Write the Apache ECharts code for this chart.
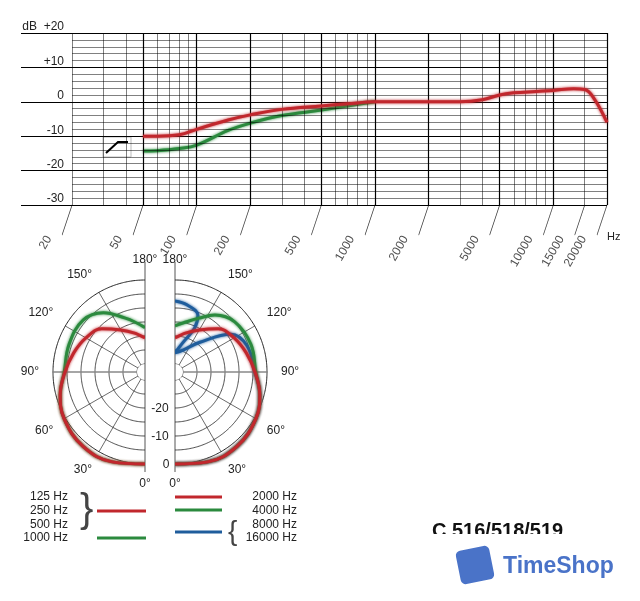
<!DOCTYPE html>
<html>
<head>
<meta charset="utf-8">
<script src="https://cdn.jsdelivr.net/npm/echarts@6/dist/echarts.min.js"></script>
<style>
  html, body { margin: 0; padding: 0; background: #fff; }
  #chart { width: 640px; height: 601px; }
</style>
</head>
<body>
<div id="chart"></div>
<script>
// frequency response (Hz, dB)
const redFreq = [50, 60, 80, 100, 150, 200, 300, 500, 700, 1000, 2000, 3000, 4000, 5000, 6000, 8000, 10000, 13000, 15000, 17000, 20000];
const redDb = [-10, -10, -9.6, -8, -5.3, -3.8, -2.2, -1.2, -0.6, 0, 0, 0, 0.6, 2, 2.6, 3, 3.3, 3.8, 3.6, 0.8, -6];
const greenFreq = [50, 60, 80, 100, 150, 200, 300, 500, 700, 1000];
const greenDb = [-14.3, -14.2, -13.6, -12.6, -8.3, -6.2, -4, -2.4, -1.2, 0];
const freqLabels = [20, 50, 100, 200, 500, 1000, 2000, 5000, 10000, 15000, 20000];
const gridFreqs = [20, 30, 40, 50, 60, 70, 80, 90, 100, 200, 300, 400, 500, 600, 700, 800, 900, 1000,
  2000, 3000, 4000, 5000, 6000, 7000, 8000, 9000, 10000, 15000, 20000];
const majorFreqs = [50, 100, 200, 500, 1000, 2000, 5000, 10000, 20000];
const minorDb = [-28, -26, -24, -22, -18, -16, -14, -12, -8, -6, -4, -2, 2, 4, 6, 8, 12, 14, 16, 18];

// polar patterns: angle (deg) / level (dB)
const lowAngles = [0, 20, 40, 60, 75, 90, 105, 120, 135, 150, 165, 180];
const lowDb = [0, 1.3, 1.7, 0.5, -1.5, -4.3, -6.5, -8.5, -11, -15.5, -18.5, -20.7];
const k1Angles = [0, 20, 40, 60, 75, 90, 110, 130, 145, 160, 170, 180];
const k1Db = [0, 1.3, 1.7, 0.5, -1.5, -4, -4, -4, -7, -12.4, -15, -17];
const k2Angles = [0, 20, 40, 60, 75, 90, 105, 120, 135, 150, 165, 180];
const k2Db = [0, 1.3, 1.7, 0.5, -1.5, -4.3, -6.5, -8.5, -11, -15.5, -18.5, -20.7];
const k4Angles = [0, 20, 40, 60, 75, 90, 110, 130, 145, 156, 170, 180];
const k4Db = [0, 1.3, 1.7, 0.5, -1.5, -4, -4, -5, -8, -11.8, -15, -16.4];
const k8Angles = [0, 20, 40, 60, 75, 90, 110, 124, 140, 160, 180, 165, 156, 158, 170, 180];
const k8Db = [0, 1.3, 1.7, 0.5, -1.5, -4.3, -5.5, -8.8, -19, -24.5, -26, -22, -15.7, -11, -8.5, -7.5];
const ringDb = [-30, -25, -20, -15, -10, -5, 0];

const RED = '#c1272d', GREEN = '#2b8a3e', BLUE = '#1f5d9c';
const pair = (a, b) => a.map((v, i) => [v, b[i]]);
const polarPair = (ang, db) => ang.map((a, i) => [db[i], a]);

const chart = echarts.init(document.getElementById('chart'));

const gridLines = gridFreqs.map(f => ({
  xAxis: f,
  lineStyle: { color: '#000', width: majorFreqs.includes(f) ? 1.2 : 0.5, type: 'solid' }
}));
const hLines = minorDb.map(d => [{ coord: [20, d] }, { coord: [20000, d] }]);

function polarAxes(idx) {
  return {
    angle: {
      polarIndex: idx, type: 'value', min: 0, max: 180, interval: 30,
      startAngle: idx === 0 ? 270 : -90, endAngle: 90,
      clockwise: idx === 0,
      axisLine: { show: false },
      axisTick: { show: false },
      splitLine: { show: false },
      axisLabel: { color: '#222', fontSize: 12, margin: 0, formatter: v => v + '°' }
    },
    radius: {
      polarIndex: idx, type: 'value', min: -30, max: 5, interval: 5,
      axisLine: { show: false }, axisTick: { show: false },
      splitLine: { show: false }, axisLabel: { show: false }
    }
  };
}
const pl = polarAxes(0), pr = polarAxes(1);

const ringAngles = [];
for (let a = 0; a <= 180; a += 3) ringAngles.push(a);
const spokeAngles = [30, 60, 90, 120, 150];
const rings = idx => ringDb.map(d => ({
  type: 'line', coordinateSystem: 'polar', polarIndex: idx, silent: true,
  data: ringAngles.map(a => [d, a]), symbol: 'none', smooth: true, z: 1,
  lineStyle: { color: '#222', width: d === 0 ? 1 : 0.8 }
})).concat(spokeAngles.map(a => ({
  type: 'line', coordinateSystem: 'polar', polarIndex: idx, silent: true,
  data: [[-30, a], [0, a]], symbol: 'none', z: 1,
  lineStyle: { color: a === 90 ? '#888' : '#444', width: a === 90 ? 1.5 : 0.8 }
})));

const polarLine = (idx, name, color, data) => ({
  type: 'line', name, coordinateSystem: 'polar', polarIndex: idx, data,
  smooth: 0.4, symbol: 'none', z: 5,
  lineStyle: { color, width: 3, shadowColor: color, shadowBlur: 3 }
});

const txt = (x, y, s, opt) => ({ type: 'text', x, y, style: Object.assign({ text: s, fill: '#222', font: '12px Liberation Sans, Arial', textVerticalAlign: 'middle' }, opt || {}) });
const seg = (x1, y1, x2, y2, color, w) => ({ type: 'line', shape: { x1, y1, x2, y2 }, style: { stroke: color, lineWidth: w } });

chart.setOption({
  animation: false,
  backgroundColor: '#fff',
  grid: { left: 21, right: 33, top: 33, height: 172 },
  xAxis: {
    type: 'log', logBase: 10, min: 10.34, max: 20000,
    axisLine: { show: false }, axisTick: { show: false },
    axisLabel: { show: false }, splitLine: { show: false }
  },
  yAxis: {
    type: 'value', min: -30, max: 20, interval: 10,
    axisLine: { show: false }, axisTick: { show: false },
    splitLine: { lineStyle: { color: '#000', width: 1.2 } },
    axisLabel: {
      inside: true, align: 'right', margin: 43, verticalAlign: 'bottom', color: '#222', fontSize: 12,
      formatter: v => v === 20 ? 'dB  +20' : (v > 0 ? '+' + v : String(v))
    }
  },
  polar: [
    { center: [145, 372], radius: [8, 106] },
    { center: [175, 372], radius: [8, 106] }
  ],
  angleAxis: [pl.angle, pr.angle],
  radiusAxis: [pl.radius, pr.radius],
  series: [
    {
      type: 'line', data: [], silent: true,
      markLine: { symbol: 'none', silent: true, label: { show: false }, data: gridLines.concat(hLines),
        lineStyle: { color: '#000', width: 0.5, type: 'solid' } }
    },
    {
      type: 'scatter', silent: true, data: freqLabels.map(f => [f, -30]),
      symbol: 'path://M10 0 L0 30', symbolSize: [10, 30], symbolOffset: [-5, 15],
      itemStyle: { color: 'none', borderColor: '#000', borderWidth: 1 },
      label: { show: true, position: 'bottom', distance: 0, rotate: 60, offset: [-7, -17],
        align: 'right', verticalAlign: 'middle', color: '#222', fontSize: 12,
        formatter: p => String(p.value[0]) }
    },
    { type: 'line', name: 'red', data: pair(redFreq, redDb), smooth: 0.4, symbol: 'none', z: 5,
      lineStyle: { color: RED, width: 3, shadowColor: RED, shadowBlur: 3 } },
    { type: 'line', name: 'green', data: pair(greenFreq, greenDb), smooth: 0.4, symbol: 'none', z: 4,
      lineStyle: { color: GREEN, width: 3, shadowColor: GREEN, shadowBlur: 3 } },
    ...rings(0), ...rings(1),
    polarLine(0, '1000 Hz', GREEN, polarPair(k1Angles, k1Db)),
    polarLine(0, '125-500 Hz', RED, polarPair(lowAngles, lowDb)),
    polarLine(1, '8000/16000 Hz', BLUE, polarPair(k8Angles, k8Db)),
    polarLine(1, '4000 Hz', GREEN, polarPair(k4Angles, k4Db)),
    polarLine(1, '2000 Hz', RED, polarPair(k2Angles, k2Db))
  ],
  graphic: [
    txt(607, 237, 'Hz', { font: '11px Liberation Sans, Arial' }),
    // high-pass symbol
    { type: 'rect', shape: { x: 103, y: 137, width: 28, height: 20 }, style: { fill: '#fff', stroke: '#bbb', lineWidth: 1 } },
    { type: 'polyline', shape: { points: [[106, 153], [118, 142], [128, 142]] }, style: { stroke: '#000', lineWidth: 2, fill: null } },
    seg(145, 262, 145, 472, '#555', 1),
    seg(175, 262, 175, 472, '#555', 1),
    txt(160, 409, '-20', { textAlign: 'center' }),
    txt(160, 437, '-10', { textAlign: 'center' }),
    txt(166, 465, '0', { textAlign: 'center' }),
    txt(68, 497, '125 Hz', { textAlign: 'right' }),
    txt(68, 511, '250 Hz', { textAlign: 'right' }),
    txt(68, 525, '500 Hz', { textAlign: 'right' }),
    txt(68, 538, '1000 Hz', { textAlign: 'right' }),
    txt(80, 511, '}', { font: '40px Liberation Sans, Arial', fill: '#444' }),
    seg(97, 511, 146, 511, RED, 3),
    seg(97, 538, 146, 538, GREEN, 3),
    seg(175, 497, 222, 497, RED, 3),
    seg(175, 510, 222, 510, GREEN, 3),
    seg(175, 532, 222, 532, BLUE, 3),
    txt(297, 497, '2000 Hz', { textAlign: 'right' }),
    txt(297, 511, '4000 Hz', { textAlign: 'right' }),
    txt(297, 525, '8000 Hz', { textAlign: 'right' }),
    txt(297, 538, '16000 Hz', { textAlign: 'right' }),
    txt(228, 532, '{', { font: '28px Liberation Sans, Arial', fill: '#444' }),
    txt(432, 531, 'C 516/518/519', { font: 'bold 20px Liberation Sans, Arial', fill: '#111' }),
    { type: 'rect', shape: { x: 430, y: 534, width: 210, height: 67 }, style: { fill: '#fff' } },
    { type: 'rect', shape: { x: 458, y: 548, width: 34, height: 34, r: 5 }, rotation: 0.2, originX: 475, originY: 565, style: { fill: '#4a73c8' } },
    txt(503, 567, 'TimeShop', { font: 'bold 23px Liberation Sans, Arial', fill: '#4a73c8' })
  ]
});
</script>
</body>
</html>
